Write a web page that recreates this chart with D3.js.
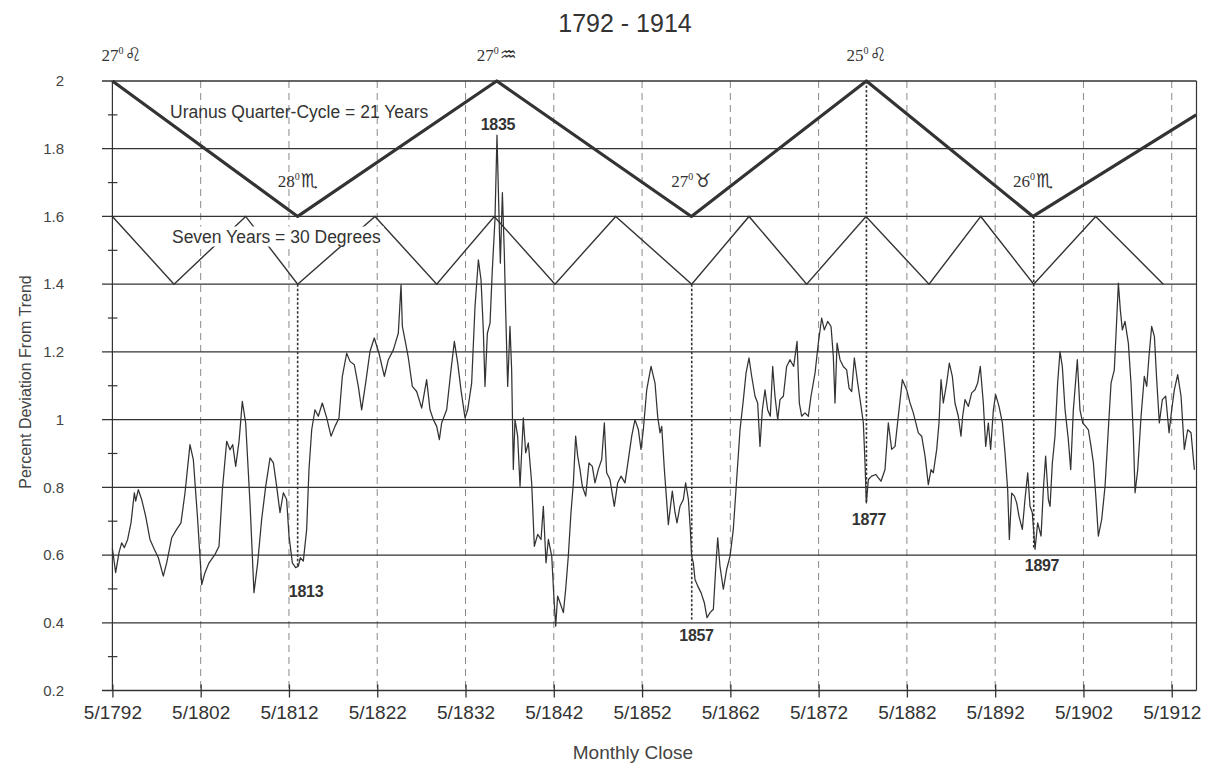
<!DOCTYPE html>
<html><head><meta charset="utf-8">
<script src="https://cdn.jsdelivr.net/npm/d3@7"></script>
<style>body{margin:0;background:#fff} svg{display:block}</style>
</head><body><svg id="c" width="1209" height="767"></svg>
<script>
// ---------------- data ----------------
const tickYears = [1792,1802,1812,1822,1832,1842,1852,1862,1872,1882,1892,1902,1912];
const tickLabels = ["5/1792","5/1802","5/1812","5/1822","5/1832","5/1842","5/1852","5/1862","5/1872","5/1882","5/1892","5/1902","5/1912"];
const yTicks = [0.2,0.4,0.6,0.8,1,1.2,1.4,1.6,1.8,2];
const yTickLabels = ["0.2","0.4","0.6","0.8","1","1.2","1.4","1.6","1.8","2"];
const yMinorTicks = [0.3,0.5,0.7,0.9,1.1,1.3,1.5,1.7,1.9];

// Uranus quarter-cycle (thick zigzag)
const uranusYears  = [1792.333,1813.32,1835.87,1857.92,1877.75,1896.62,1915.1];
const uranusValues = [2.0,1.6,2.0,1.6,2.0,1.6,1.9];
// Seven years = 30 degrees (thin zigzag)
const sevenYears  = [1792.333,1799.31,1807.43,1813.32,1822.08,1829.07,1835.59,1842.47,1849.35,1857.96,1864.45,1870.98,1877.7,1884.84,1890.7,1896.7,1903.72,1911.38];
const sevenValues = [1.6,1.4,1.6,1.4,1.6,1.4,1.6,1.4,1.6,1.4,1.6,1.4,1.6,1.4,1.6,1.4,1.6,1.4];

// Astrological position labels at the quarter-cycle turning points
const signDegrees = ["27","28","27","27","25","26"];
const signGlyphs  = ["\u264C","\u264F","\u2652","\u2649","\u264C","\u264F"];
const signYears   = [1792.333,1813.32,1835.87,1857.92,1877.75,1896.62];
const signLevels  = [2.0,1.6,2.0,1.6,2.0,1.6];

// Marker lines for the major lows
const markerYears  = [1813.32,1857.96,1877.75,1896.7];
const markerTop    = [1.4,1.4,2.0,1.6];
const markerBottom = [0.563,0.41,0.754,0.617];

// Year annotations
const annoText   = ["1813","1835","1857","1877","1897"];
const annoYears  = [1814.27,1836.01,1858.5,1878.04,1897.64];
const annoValues = [0.492,1.871,0.362,0.705,0.569];

// Notes
const noteText   = ["Uranus Quarter-Cycle = 21 Years","Seven Years = 30 Degrees"];
const noteYears  = [1798.86,1799.08];
const noteValues = [1.892,1.523];

// Monthly close, percent deviation from trend
const dataYears = [
1792.33,1792.70,1793.08,1793.38,1793.69,1794.06,1794.44,1794.82,1794.97,1795.27,1795.65,1796.10,1796.59,1797.08,1797.54,1798.10,1798.48,1799.05,1799.61,1800.10,
1800.56,1801.12,1801.50,1801.99,1802.45,1802.82,1803.28,1803.96,1804.41,1804.79,1805.28,1805.66,1805.96,1806.30,1806.68,1807.05,1807.43,1807.92,1808.37,1808.79,
1809.24,1809.70,1810.19,1810.57,1810.94,1811.32,1811.70,1812.07,1812.34,1812.72,1813.09,1813.40,1813.62,1813.96,1814.34,1814.60,1814.91,1815.28,1815.66,1816.11,
1816.61,1817.10,1817.55,1818.00,1818.38,1818.87,1819.25,1819.74,1820.19,1820.57,1821.02,1821.51,1822.00,1822.53,1823.14,
1823.59,1824.16,1824.72,1825.03,1825.18,1825.55,1825.86,1826.31,1826.80,1827.37,1827.93,1828.31,1828.69,1829.07,1829.37,1829.63,1830.20,1830.69,1831.07,1831.45,
1831.82,1832.28,1832.58,1833.03,1833.41,1833.79,1834.09,1834.35,1834.54,1834.81,1835.11,1835.37,1835.67,1835.90,1836.13,1836.28,1836.51,1836.73,1836.88,1837.11,
1837.37,1837.56,1837.75,1837.94,1838.24,1838.51,1838.88,1839.15,1839.45,1839.83,1840.13,1840.51,1840.89,1841.15,1841.45,1841.72,1842.10,1842.36,1842.55,1842.77,
1843.04,1843.42,1843.68,1843.98,1844.28,1844.55,1844.81,1845.04,1845.30,1845.57,1845.95,1846.32,1846.70,1847.00,1847.38,1847.76,1848.06,1848.32,1848.70,1849.19,
1849.57,1849.95,1850.40,1850.78,1851.16,1851.53,1851.91,1852.21,1852.48,1852.86,1853.35,
1853.80,1854.10,1854.37,1854.56,1854.86,1855.08,1855.31,1855.76,1856.07,1856.29,1856.63,1857.01,1857.27,1857.58,1857.80,1857.95,1858.14,1858.33,1858.63,1859.01,
1859.39,1859.69,1860.03,1860.41,1860.67,1860.90,1861.16,1861.54,1861.92,1862.30,1862.67,1863.05,1863.43,1863.81,1864.11,1864.45,1864.75,1865.13,1865.43,1865.69,
1865.96,1866.26,1866.56,1866.86,1867.13,1867.39,1867.70,1867.96,1868.34,1868.71,1869.09,1869.51,1869.89,1870.15,1870.41,1870.79,1871.17,1871.47,1871.93,1872.30,
1872.68,1872.98,1873.36,1873.74,1874.00,1874.19,1874.42,1874.76,1875.13,1875.51,1875.78,1876.08,1876.38,1876.76,1877.14,1877.40,1877.59,1877.74,1877.97,1878.34,
1878.80,1879.10,1879.40,1879.85,1880.23,1880.61,1880.99,1881.36,1881.82,1882.31,1882.69,1883.06,
1883.63,1884.01,1884.39,1884.76,1885.07,1885.33,1885.71,1885.97,1886.20,1886.46,1886.84,1887.14,1887.48,1887.78,1888.16,1888.46,1888.65,1888.92,1889.30,1889.67,
1890.05,1890.35,1890.65,1890.99,1891.26,1891.56,1891.82,1892.13,1892.39,1892.77,1893.15,1893.45,1893.75,1893.94,1894.20,1894.51,1894.77,1895.03,1895.41,1895.71,
1896.02,1896.28,1896.54,1896.85,1897.15,1897.53,1897.79,1898.05,1898.36,1898.55,1898.81,1899.11,1899.41,1899.68,1899.94,1900.25,1900.62,1900.89,1901.19,1901.64,
1901.94,1902.25,1902.59,1902.89,1903.19,1903.46,1903.76,1904.02,1904.40,1904.78,1905.15,1905.46,1905.83,1906.10,1906.29,1906.51,1906.74,1907.04,1907.42,1907.72,
1907.99,1908.18,1908.48,1908.86,1909.23,1909.50,1909.76,1910.06,1910.37,1910.63,1910.93,1911.27,1911.65,1912.03,1912.33,1912.63,1913.01,1913.39,1913.76,1914.14,
1914.52,1914.90];
const deviation = [
0.620,0.548,0.607,0.636,0.622,0.646,0.695,0.784,0.759,0.793,0.764,0.715,0.646,0.617,0.592,0.538,0.577,0.651,0.676,0.695,
0.784,0.926,0.882,0.705,0.513,0.548,0.577,0.602,0.626,0.793,0.936,0.911,0.926,0.862,0.936,1.054,0.990,0.754,0.489,0.577,
0.705,0.803,0.887,0.872,0.803,0.725,0.784,0.764,0.656,0.577,0.563,0.567,0.592,0.582,0.676,0.852,0.970,1.029,1.010,1.049,
1.005,0.951,0.980,1.005,1.128,1.196,1.172,1.162,1.098,1.029,1.108,1.201,1.241,1.196,1.128,
1.177,1.206,1.255,1.398,1.275,1.226,1.182,1.098,1.083,1.034,1.118,1.029,1.000,0.980,0.941,0.990,1.029,1.147,1.231,1.167,
1.088,1.005,1.029,1.108,1.334,1.472,1.413,1.265,1.098,1.255,1.285,1.442,1.590,1.840,1.600,1.462,1.670,1.491,1.324,1.098,
1.275,1.147,0.853,1.000,0.951,0.803,1.005,0.902,0.931,0.813,0.626,0.661,0.646,0.744,0.577,0.646,0.597,0.469,0.390,0.479,
0.459,0.430,0.499,0.597,0.725,0.813,0.951,0.892,0.853,0.803,0.774,0.872,0.862,0.813,0.853,0.882,0.990,0.843,0.823,0.744,
0.813,0.833,0.813,0.882,0.951,1.000,0.971,0.912,0.971,1.088,1.157,
1.108,1.010,0.961,0.980,0.852,0.774,0.690,0.789,0.725,0.695,0.744,0.764,0.813,0.764,0.676,0.597,0.577,0.528,0.509,0.489,
0.459,0.415,0.430,0.440,0.558,0.651,0.567,0.499,0.558,0.597,0.676,0.823,0.970,1.059,1.137,1.182,1.128,1.069,1.049,0.921,
1.029,1.088,1.029,1.010,1.157,1.069,1.000,1.059,1.069,1.157,1.177,1.157,1.231,1.049,1.010,1.020,1.010,1.069,1.138,1.226,
1.300,1.265,1.290,1.275,1.187,1.049,1.226,1.177,1.157,1.147,1.093,1.083,1.182,1.108,1.039,0.990,0.872,0.754,0.823,0.833,
0.838,0.828,0.818,0.852,0.990,0.912,0.921,1.010,1.118,1.088,1.049,1.020,
0.961,0.951,0.892,0.808,0.852,0.843,0.912,0.990,1.118,1.049,1.108,1.167,1.128,1.049,1.010,0.951,1.010,1.059,1.039,1.079,
1.088,1.108,1.157,1.049,0.921,0.990,0.912,1.029,1.074,1.039,0.990,0.902,0.793,0.646,0.783,0.774,0.754,0.715,0.676,0.764,
0.843,0.744,0.725,0.617,0.695,0.656,0.793,0.892,0.764,0.744,0.872,0.951,1.108,1.201,1.157,1.029,0.941,0.852,1.029,1.177,
1.029,0.990,0.980,0.970,0.921,0.872,0.764,0.656,0.705,0.803,0.970,1.108,1.147,1.295,1.403,1.324,1.265,1.290,1.226,1.108,
0.951,0.784,0.852,1.010,1.128,1.098,1.187,1.275,1.246,1.118,0.990,1.059,1.069,0.961,1.029,1.088,1.133,1.069,0.912,0.970,
0.961,0.852];

// ---------------- drawing ----------------
const FONT = "'Liberation Sans', Arial, sans-serif";
const SERIF = "'Liberation Serif', 'Times New Roman', serif";
const ink = "#333";
const svg = d3.select("#c");
const x = d3.scaleLinear().domain([1792.333, 1915.14]).range([112.4, 1196.5]);
const y = d3.scaleLinear().domain([0.2, 2]).range([690.5, 81]);
const [x0, x1] = x.range();
const tickPos = tickYears.map(t => t + 4/12);

// vertical dashed year lines
svg.append("g").selectAll("line").data(tickPos.slice(1)).join("line")
  .attr("x1", d => x(d)).attr("x2", d => x(d))
  .attr("y1", y(2)).attr("y2", y(0.2))
  .attr("stroke", "#8a8a8a").attr("stroke-width", 1).attr("stroke-dasharray", "7,5");

// horizontal grid lines
svg.append("g").selectAll("line").data(yTicks).join("line")
  .attr("x1", 102).attr("x2", x1)
  .attr("y1", d => y(d)).attr("y2", d => y(d))
  .attr("stroke", ink).attr("stroke-width", 1.3);

// left axis line and right border
svg.append("line").attr("x1", x0).attr("x2", x0).attr("y1", y(2)).attr("y2", y(0.2))
  .attr("stroke", ink).attr("stroke-width", 1.2);
svg.append("line").attr("x1", x1).attr("x2", x1).attr("y1", y(2)).attr("y2", y(0.2))
  .attr("stroke", ink).attr("stroke-width", 1.2);

// minor y ticks
svg.append("g").selectAll("line").data(yMinorTicks).join("line")
  .attr("x1", x0 - 4.5).attr("x2", x0 + 5)
  .attr("y1", d => y(d)).attr("y2", d => y(d))
  .attr("stroke", ink).attr("stroke-width", 1.2);

// x axis
const xAxis = d3.axisBottom(x).tickValues(tickPos)
  .tickFormat((d, i) => tickLabels[i]).tickSizeInner(7).tickSizeOuter(0).tickPadding(8);
const gx = svg.append("g").attr("transform", `translate(0,${y(0.2)})`).call(xAxis);
gx.select(".domain").remove();
gx.selectAll(".tick line").attr("y1", -6).attr("stroke", ink).attr("stroke-width", 1.3);
gx.selectAll(".tick text").attr("font-family", FONT).attr("font-size", 19).attr("fill", "#333");

// y axis labels
const yAxis = d3.axisLeft(y).tickValues(yTicks).tickFormat((d, i) => yTickLabels[i])
  .tickSize(0).tickPadding(x0 - 64);
const gy = svg.append("g").attr("transform", `translate(${x0},0)`).call(yAxis);
gy.select(".domain").remove();
gy.selectAll(".tick text").attr("font-family", FONT).attr("font-size", 15).attr("fill", "#444");

// marker lines (dense dashes)
svg.append("g").selectAll("line").data(markerYears).join("line")
  .attr("x1", d => x(d)).attr("x2", d => x(d))
  .attr("y1", (d, i) => y(markerTop[i])).attr("y2", (d, i) => y(markerBottom[i]))
  .attr("stroke", "#333").attr("stroke-width", 1.6).attr("stroke-dasharray", "2.5,2");

// seven-year zigzag
const line = d3.line().x(d => x(d[0])).y(d => y(d[1]));
svg.append("path").datum(sevenYears.map((t, i) => [t, sevenValues[i]]))
  .attr("d", line).attr("fill", "none").attr("stroke", "#333").attr("stroke-width", 1.4);

// Uranus quarter-cycle zigzag
svg.append("path").datum(uranusYears.map((t, i) => [t, uranusValues[i]]))
  .attr("d", line).attr("fill", "none").attr("stroke", "#333").attr("stroke-width", 3.2)
  .attr("stroke-linejoin", "round");

// data series
svg.append("path").datum(dataYears.map((t, i) => [t, deviation[i]]))
  .attr("d", line).attr("fill", "none").attr("stroke", "#333").attr("stroke-width", 1.25)
  .attr("stroke-linejoin", "round");

// notes
const notes = svg.append("g");
noteText.forEach((t, i) => {
  const g = notes.append("g");
  const txt = g.append("text").attr("x", x(noteYears[i])).attr("y", y(noteValues[i]))
    .attr("font-family", FONT).attr("font-size", 17.5).attr("fill", "#333").text(t);
  if (i === 1) {
    const b = txt.node().getBBox();
    g.insert("rect", "text").attr("x", b.x - 3).attr("y", b.y).attr("width", b.width + 6).attr("height", b.height)
      .attr("fill", "#fff");
  }
});

// year annotations
svg.append("g").selectAll("text").data(annoText).join("text")
  .attr("x", (d, i) => x(annoYears[i])).attr("y", (d, i) => y(annoValues[i]))
  .attr("text-anchor", "middle").attr("dominant-baseline", "central")
  .attr("font-family", FONT).attr("font-size", 16).attr("font-weight", "bold")
  .attr("fill", "#333").attr("letter-spacing", -0.3)
  .text(d => d);

// sign labels
const signs = svg.append("g").selectAll("text").data(signDegrees).join("text")
  .attr("x", (d, i) => x(signYears[i]) + (i === 0 ? 9 : 0))
  .attr("y", (d, i) => y(signLevels[i]) - (signLevels[i] === 2 ? 20 : 29))
  .attr("text-anchor", "middle").attr("font-family", SERIF).attr("font-size", 17).attr("fill", "#333");
signs.append("tspan").text(d => d);
signs.append("tspan").attr("font-size", 10).attr("dy", -7).text("0");
signs.append("tspan").attr("font-family", "'DejaVu Sans', sans-serif").attr("font-size", 19)
  .attr("dy", 7).attr("dx", 1).text((d, i) => signGlyphs[i]);

// titles
svg.append("text").attr("x", 625).attr("y", 32).attr("text-anchor", "middle")
  .attr("font-family", FONT).attr("font-size", 25).attr("fill", "#333").text("1792 - 1914");
svg.append("text").attr("transform", "translate(31,382) rotate(-90)").attr("text-anchor", "middle")
  .attr("font-family", FONT).attr("font-size", 16).attr("fill", "#444").text("Percent Deviation From Trend");
svg.append("text").attr("x", 633).attr("y", 759).attr("text-anchor", "middle")
  .attr("font-family", FONT).attr("font-size", 19).attr("fill", "#444").text("Monthly Close");
</script>
</body></html>
